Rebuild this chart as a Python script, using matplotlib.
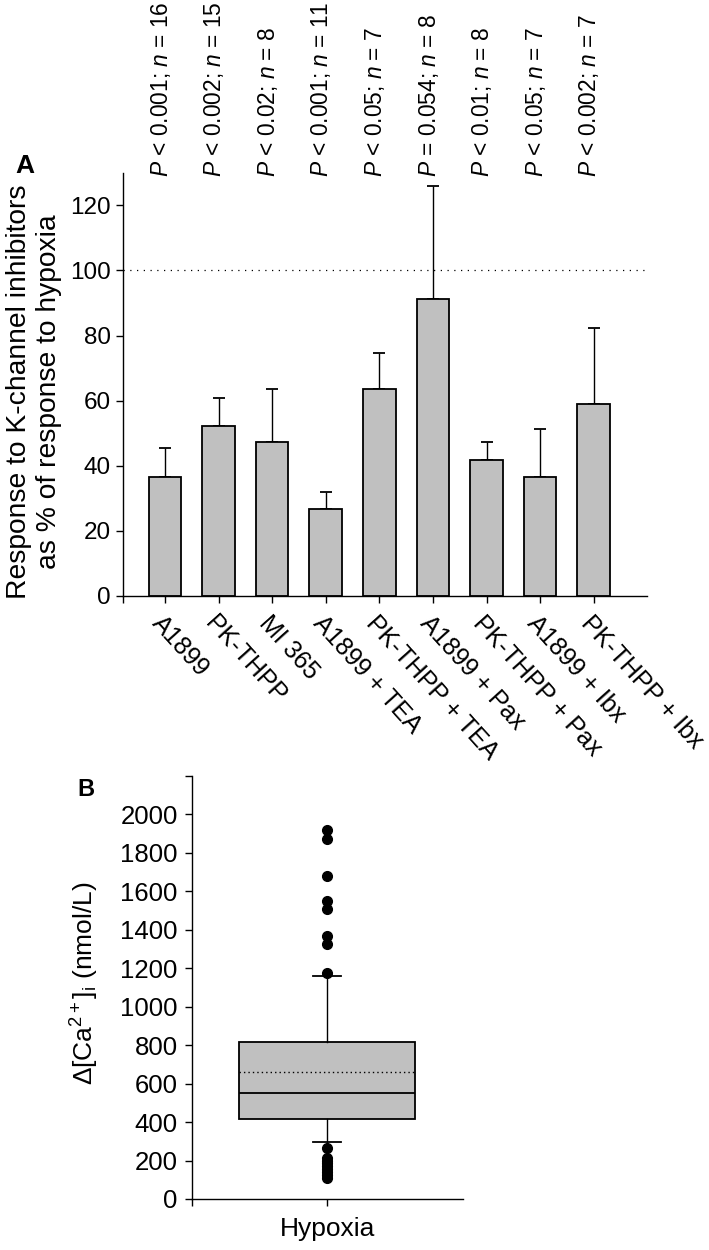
import numpy as np
import matplotlib
matplotlib.use("Agg")
import matplotlib.pyplot as plt

plt.rcParams['font.family'] = ['Liberation Sans', 'DejaVu Sans']
plt.rcParams['mathtext.fontset'] = 'custom'
plt.rcParams['mathtext.rm'] = 'Liberation Sans'
plt.rcParams['mathtext.it'] = 'Liberation Sans:italic'
plt.rcParams['axes.linewidth'] = 1.0

# panel A data
treatments = ['A1899', 'PK-THPP', 'MI 365', 'A1899 + TEA', 'PK-THPP + TEA',
              'A1899 + Pax', 'PK-THPP + Pax', 'A1899 + Ibx', 'PK-THPP + Ibx']
response = [36.5, 52.2, 47.4, 26.6, 63.5, 91.2, 41.9, 36.7, 59.0]
sem = [9.0, 8.7, 16.3, 5.2, 11.2, 34.6, 5.4, 14.7, 23.3]
p_sign = ['<', '<', '<', '<', '<', '=', '<', '<', '<']
p_val = ['0.001', '0.002', '0.02', '0.001', '0.05', '0.054', '0.01', '0.05', '0.002']
n_cells = [16, 15, 8, 11, 7, 8, 8, 7, 7]

# panel B data (box plot summary)
box_med = 553
box_q1 = 416
box_q3 = 816
whisk_lo = 295
whisk_hi = 1159
box_mean = 659
outliers = [1917, 1870, 1682, 1549, 1509, 1366, 1328, 1176,
            265, 215, 200, 185, 170, 155, 140, 125, 110]

grey = '#c0c0c0'

fig = plt.figure(figsize=(7.09, 12.5), dpi=100)

# ---------------- panel A
ax = fig.add_axes([0.1735, 0.5232, 0.7395, 0.3386])
x = np.arange(1, len(treatments) + 1)
ax.bar(x, response, width=0.61, color=grey, edgecolor='black', linewidth=1.3, zorder=2)
ax.errorbar(x, response, yerr=[np.zeros(len(sem)), sem], fmt='none',
            ecolor='black', elinewidth=1.0, capsize=4, capthick=1.3, zorder=1)
ax.axhline(100, color='black', lw=0.9, linestyle=(0, (1, 4.4)), zorder=0)

ax.set_xlim(0.218, 10.0)
ax.set_ylim(0, 130)
ax.set_yticks(range(0, 121, 20))
ax.set_xticks(x)
ax.set_xticks([0.218], minor=True)
ax.set_xticklabels(treatments)
for s in ['top', 'right']:
    ax.spines[s].set_visible(False)
ax.tick_params(axis='y', direction='out', length=5, width=1, labelsize=17.5, pad=4)
ax.tick_params(axis='x', which='both', direction='out', length=5, width=1, labelsize=18, pad=6)
plt.setp(ax.get_xticklabels(), rotation=-48, ha='left', va='top', rotation_mode='anchor')

for xi, sg, pv, n in zip(x, p_sign, p_val, n_cells):
    ax.text(xi + 0.05, 128.7, '$P$ %s %s; $n$ = %d' % (sg, pv, n), rotation=90,
            rotation_mode='anchor', ha='left', va='baseline', fontsize=16.4, clip_on=False)

fig.text(34 / 709, 1 - 392 / 1250, 'Response to K-channel inhibitors\nas % of response to hypoxia',
         rotation=90, ha='center', va='center', multialignment='center', fontsize=20.3)
fig.text(15 / 709, 1 - 166 / 1250, 'A', fontsize=19, fontweight='bold', ha='left', va='center')

# ---------------- panel B
bx = fig.add_axes([0.2704, 0.0408, 0.3821, 0.3384])
stats = [dict(med=box_med, q1=box_q1, q3=box_q3, whislo=whisk_lo, whishi=whisk_hi,
              mean=box_mean, fliers=outliers, label='Hypoxia')]
bx.bxp(stats, positions=[1], widths=1.30, capwidths=0.21, patch_artist=True,
       showmeans=True, meanline=True,
       boxprops=dict(facecolor=grey, edgecolor='black', linewidth=1.3),
       medianprops=dict(color='black', linewidth=1.3),
       meanprops=dict(color='black', linewidth=1.0, linestyle=(0, (1, 2.2))),
       whiskerprops=dict(color='black', linewidth=1.0),
       capprops=dict(color='black', linewidth=1.3),
       flierprops=dict(marker='o', markerfacecolor='black', markeredgecolor='black',
                       markersize=7))
bx.set_xlim(0, 2)
bx.set_ylim(0, 2200)
bx.set_yticks(range(0, 2001, 200))
bx.set_yticks([2200], minor=True)
bx.set_xticks([0], minor=True)
for s in ['top', 'right']:
    bx.spines[s].set_visible(False)
bx.tick_params(axis='y', which='both', direction='out', length=5, width=1, labelsize=18.5, pad=5)
bx.tick_params(axis='x', which='both', direction='out', length=5, width=1, labelsize=19, pad=8)

fig.text(85 / 709, 1 - 983 / 1250, r'$\Delta$[Ca$^{2+}$]$_{\rm i}$ (nmol/L)',
         rotation=90, ha='center', va='center', fontsize=19)
fig.text(77 / 709, 1 - 790 / 1250, 'B', fontsize=17, fontweight='bold', ha='left', va='center')

fig.savefig('out.png', dpi=100)
